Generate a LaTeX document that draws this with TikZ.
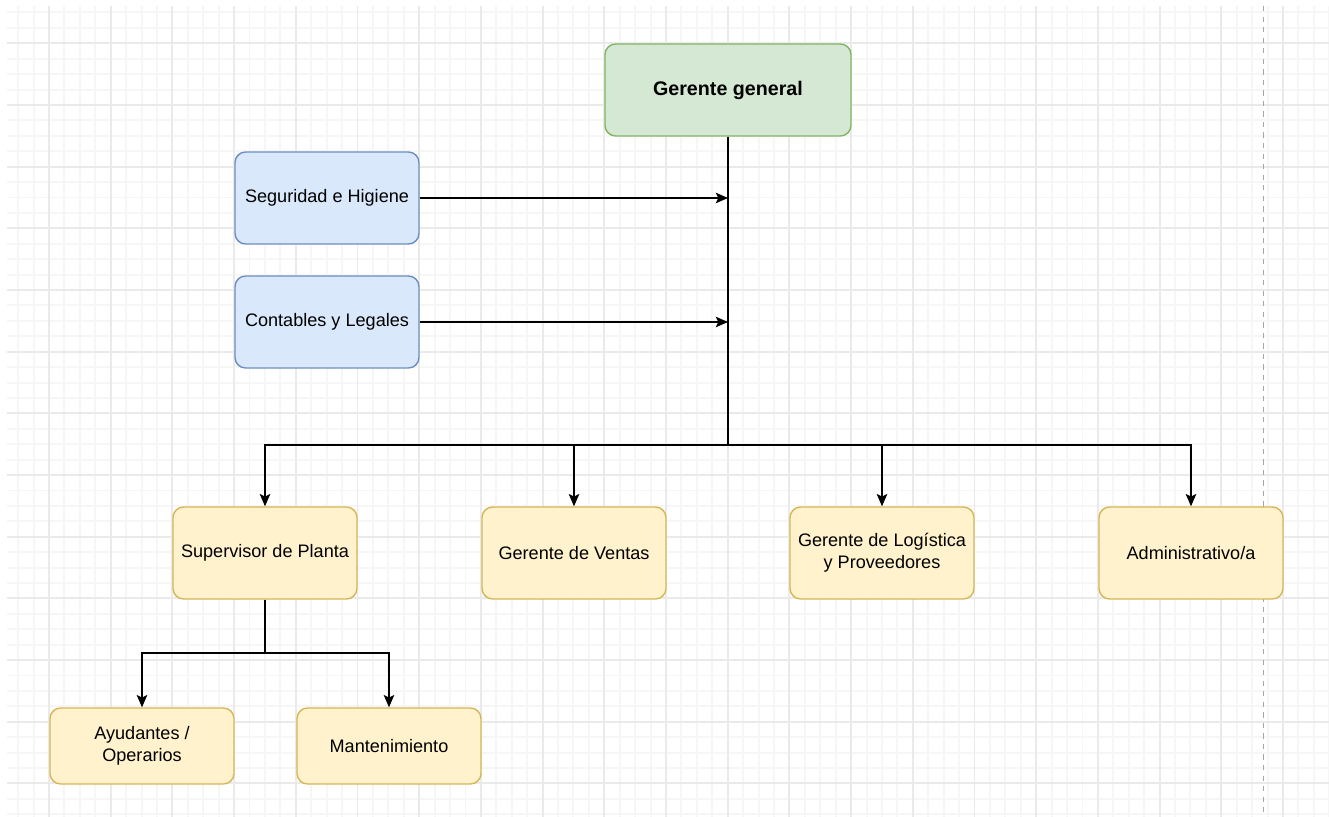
\documentclass[tikz,border=0pt]{standalone}
\usepackage{fontspec}
\setmainfont{Liberation Sans}
\usepackage{tikz}
\usetikzlibrary{arrows.meta,positioning}

\definecolor{gridminor}{HTML}{F6F6F6}
\definecolor{gridmajor}{HTML}{EAEAEA}
\definecolor{greenfill}{HTML}{D5E8D4}
\definecolor{greenline}{HTML}{82B366}
\definecolor{bluefill}{HTML}{DAE8FC}
\definecolor{blueline}{HTML}{6C8EBF}
\definecolor{yellowfill}{HTML}{FFF2CC}
\definecolor{yellowline}{HTML}{D6B656}

\begin{document}
\begin{tikzpicture}[x=0.02cm,y=-0.02cm,
  box/.style={rectangle,rounded corners=6pt,line width=0.8pt,
    minimum width=3.68cm,minimum height=1.84cm,align=center,
    font=\fontsize{10.3}{12.6}\selectfont},
  top box/.style={box,fill=greenfill,draw=greenline,minimum width=4.92cm,
    font=\fontsize{11.2}{13}\selectfont\bfseries},
  side box/.style={box,fill=bluefill,draw=blueline},
  unit box/.style={box,fill=yellowfill,draw=yellowline},
  arrow/.style={line width=0.8pt,-{Stealth[length=7pt,width=6pt,inset=1.5pt]}},
  line/.style={line width=0.8pt},
  grid line/.style={line width=1.1pt}]

  \useasboundingbox (0,0) rectangle (1329,817);

  \begin{scope}
    \clip (7,6) rectangle (1329,817);
    \foreach \i in {-2,...,85}
      \draw[gridminor,grid line] (49+15.425*\i,6) -- (49+15.425*\i,817);
    \foreach \i in {-3,...,53}
      \draw[gridminor,grid line] (7,43.3+15.42*\i) -- (1329,43.3+15.42*\i);
    \foreach \i in {0,...,21}
      \draw[gridmajor,grid line] (49+61.7*\i,6) -- (49+61.7*\i,817);
    \foreach \i in {0,...,13}
      \draw[gridmajor,grid line] (7,43.3+61.67*\i) -- (1329,43.3+61.67*\i);
  \end{scope}
  \draw[gray!70,dashed,line width=0.6pt] (1263.5,6) -- (1263.5,817);

  \node[top box] (gg) at (728,90) {Gerente general};

  \node[side box] (seg) at (327,198) {Seguridad e Higiene};
  \node[side box] (con) at (327,322) {Contables y Legales};

  \node[unit box] (sup) at (265,553) {Supervisor de Planta};
  \node[unit box] (ven) at (574,553) {Gerente de Ventas};
  \node[unit box] (log) at (882,553) {Gerente de Log\'istica\\y Proveedores};
  \node[unit box] (adm) at (1191,553) {Administrativo/a};

  \node[unit box,minimum height=1.52cm] (ayu) at (142,746) {Ayudantes /\\Operarios};
  \node[unit box,minimum height=1.52cm] (man) at (389,746) {Mantenimiento};

  \coordinate (bus) at (728,445);
  \coordinate (sub) at (265,653);

  \draw[line] (gg) -- (bus);
  \draw[arrow] (seg) -- (seg -| gg);
  \draw[arrow] (con) -- (con -| gg);
  \draw[arrow] (bus) -| (sup);
  \draw[arrow] (bus) -| (ven);
  \draw[arrow] (bus) -| (log);
  \draw[arrow] (bus) -| (adm);

  \draw[line] (sup) -- (sub);
  \draw[arrow] (sub) -| (ayu);
  \draw[arrow] (sub) -| (man);

\end{tikzpicture}
\end{document}
